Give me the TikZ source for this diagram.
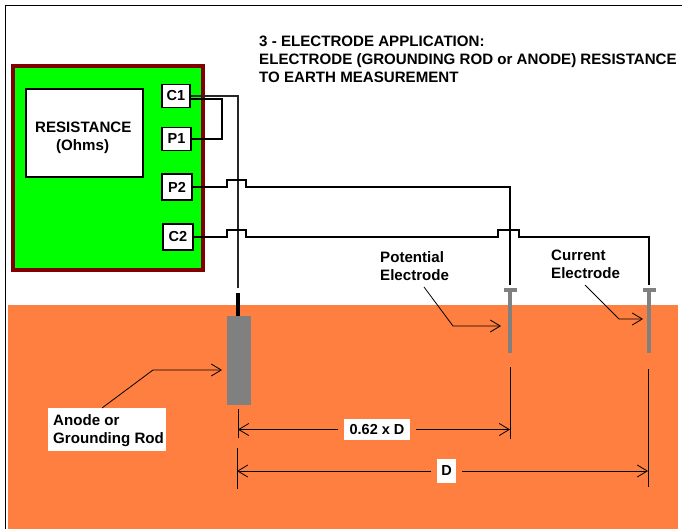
\documentclass[tikz,border=0pt]{standalone}
\usepackage{fontspec}
\setmainfont{Liberation Sans}
\usetikzlibrary{arrows.meta}
\definecolor{soil}{RGB}{255,127,64}
\definecolor{meter}{RGB}{0,255,0}
\definecolor{rim}{RGB}{128,0,0}
\definecolor{rod}{RGB}{128,128,128}
\tikzset{
  >={Straight Barb[length=10pt,width=12pt]},
  terminal/.style={draw, fill=white, line width=1.4pt, inner sep=0pt, minimum height=25pt, font=\fontsize{14.5}{16}\selectfont\bfseries},
  wire/.style={line width=1.6pt},
  leader/.style={line width=0.8pt},
  caption/.style={align=left, inner sep=0pt, anchor=north west, font=\fontsize{15.1}{18}\selectfont\bfseries},
  dimlabel/.style={fill=white, inner sep=0pt, outer sep=6pt, font=\fontsize{14.5}{16}\selectfont\bfseries},
  rodpart/.style={fill=rod, inner sep=0pt, minimum width=4pt}
}
\begin{document}
\begin{tikzpicture}[x=1pt, y=-1pt]
    \useasboundingbox (0,0) rectangle (682,529);
    \fill [white] (0,0) rectangle (682,529);
    \fill [soil] (8,305) rectangle (678,529);
    \draw [line width=1.3pt] (5.5,529) -- (5.5,5.5) -- (682,5.5);
    % instrument
    \node (meterbox) at (108,168) [draw=rim, fill=meter, line width=4pt, minimum width=190pt, minimum height=204pt, inner sep=0pt] {};
    \node (display) at (84.5,133) [draw, fill=white, line width=1.4pt, minimum width=117pt, minimum height=88pt, inner sep=0pt] {};
    \node (readout) at (35,122) [caption] {RESISTANCE\\\hspace*{21pt}(Ohms)};
    \node (cone) at (176,96) [terminal, minimum width=28pt, minimum height=23pt] {C1};
    \node (pone) at ([shift={(0.5,43)}]  cone) [terminal, minimum width=29pt, minimum height=23pt] {P1};
    \node (ptwo) at ([shift={(0.5,48)}]  pone) [terminal, minimum width=30pt, minimum height=26pt] {P2};
    \node (ctwo) at ([shift={(1,50)}]    ptwo) [terminal, minimum width=30pt, minimum height=26pt] {C2};
    % title
    \node (title) at (259,36) [caption] {3 - ELECTRODE APPLICATION:\\ELECTRODE (GROUNDING ROD or ANODE) RESISTANCE\\TO EARTH MEASUREMENT};
    % rods
    \node (anode) at (239,360.5) [rodpart, minimum width=24pt, minimum height=89pt] {};
    \node (stub)  at (238,304.5) [fill=black, inner sep=0pt, minimum width=4pt, minimum height=23pt] {};
    \node (potrod) at (510,320.5) [rodpart, minimum height=65pt] {};
    \node (potcap) at (510,289.5) [fill=rod, inner sep=0pt, minimum width=13pt, minimum height=4pt] {};
    \node (currod) at (649,320.5) [rodpart, minimum height=65pt] {};
    \node (curcap) at (649,289.5) [fill=rod, inner sep=0pt, minimum width=13pt, minimum height=4pt] {};
    % wires
    \coordinate (anodetop) at (238,288);
    \coordinate (pottop) at (510,285);
    \coordinate (curtop) at (649,285);
    \draw [wire, black!85] (cone.east) -| (anodetop);
    \draw [wire] ([shift={(0,3)}]cone.east) -- ++(31,0) |- (pone.east);
    \draw [wire] (ptwo.east) -- ++(34,0) -- ++(0,-7) -- ++(19,0) -- ++(0,7) -| (pottop);
    \draw [wire] (ctwo.east) -- ++(33,0) -- ++(0,-7) -- ++(19,0) -- ++(0,7)
      -- ++(252,0) -- ++(0,-7) -- ++(21,0) -- ++(0,7) -| (curtop);
    % electrode labels
    \node (potlabel) at (380,251) [caption] {Potential\\Electrode};
    \node (curlabel) at (551,250) [caption] {Current\\Electrode};
    \node (anolabel) at (48,408) [fill=white, minimum width=118pt, minimum height=43pt, anchor=north west, inner sep=0pt, outer sep=0pt] {};
    \node (anotext) at (53,414) [caption] {Anode or\\Grounding Rod};
    \coordinate (potfrom) at (424,287);
    \coordinate (potbend) at (453,326);
    \coordinate (potto) at (501,326);
    \coordinate (curfrom) at (585,285);
    \coordinate (curbend) at (619,319);
    \coordinate (curto) at (643,319);
    \coordinate (anofrom) at (102,408);
    \coordinate (anobend) at (153,370);
    \coordinate (anoto) at (222,370);
    \draw [leader, ->] (potfrom) -- (potbend) -- (potto);
    \draw [leader, ->] (curfrom) -- (curbend) -- (curto);
    \draw [leader, ->] (anofrom) -- (anobend) -- (anoto);
    % dimensions
    \coordinate (lefta) at (238,409);
    \coordinate (leftb) at (238,438);
    \coordinate (mida)  at (510,367);
    \coordinate (midb)  at (510,439);
    \coordinate (leftc) at (237,448);
    \coordinate (leftd) at (237,489);
    \coordinate (righta) at (648,369);
    \coordinate (rightb) at (648,487);
    \draw [leader] (lefta) -- (leftb);
    \draw [leader] (mida) -- (midb);
    \draw [leader] (leftc) -- (leftd);
    \draw [leader] (righta) -- (rightb);
    \node (ratio) at (377,429.5) [dimlabel, minimum width=66pt, minimum height=21pt] {0.62 x D};
    \node (dist)  at (446.5,471) [dimlabel, minimum width=19pt, minimum height=24pt] {D};
    \draw [leader, ->] (ratio.west) -- (lefta |- ratio.west);
    \draw [leader, ->] (ratio.east) -- (mida |- ratio.east);
    \draw [leader, ->] (dist.west) -- (leftc |- dist.west);
    \draw [leader, ->] (dist.east) -- (righta |- dist.east);
  \end{tikzpicture}
\end{document}
